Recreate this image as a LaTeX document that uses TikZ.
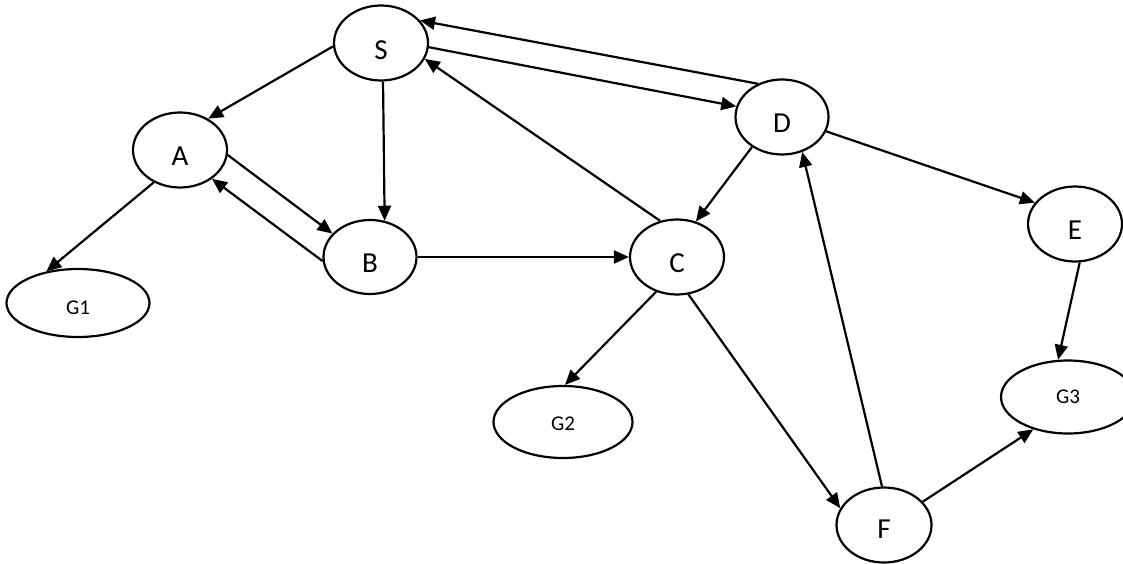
\documentclass[tikz,border=0pt]{standalone}
\usepackage{fontspec}
\setmainfont{Carlito}
\usetikzlibrary{shapes.geometric,arrows.meta}
\begin{document}
\begin{tikzpicture}[x=1pt,y=-1pt,
  st/.style={ellipse,draw,line width=2.2pt,inner sep=0pt,minimum width=94pt,minimum height=75pt},
  gl/.style={ellipse,draw,line width=2.2pt,inner sep=0pt},
  lbl/.style={inner sep=0pt,font=\fontsize{29}{32}\selectfont},
  glbl/.style={inner sep=0pt,font=\fontsize{21}{24}\selectfont},
  arr/.style={line width=2.2pt,-{Triangle[length=15pt,width=13pt]}}]
\useasboundingbox (0,0) rectangle (1123,564);
\clip (0,0) rectangle (1123,564);
% state nodes
\node[st] (S) at (381,43) {};
\node[st] (A) at (180,150) {};
\node[st,minimum width=93pt,minimum height=74pt] (B) at (370,257) {};
\node[st] (C) at (677,257) {};
\node[st,minimum width=93pt] (D) at (782,117) {};
\node[st] (E) at (1075,224) {};
\node[st,minimum width=95pt] (F) at (884,525) {};
\node[gl,minimum width=143pt,minimum height=68pt] (G1) at (78,303) {};
\node[gl,minimum width=139pt,minimum height=72pt] (G2) at (563,422) {};
\node[gl,minimum width=134pt,minimum height=73pt] (G3) at (1068,397) {};
% labels
\node[lbl] (tS) at ([yshift=-7pt]S.center) {S};
\node[lbl] (tA) at ([yshift=-6pt]A.center) {A};
\node[lbl] (tB) at ([yshift=-6pt]B.center) {B};
\node[lbl] (tC) at ([yshift=-6pt]C.center) {C};
\node[lbl] (tD) at ([yshift=-6pt]D.center) {D};
\node[lbl] (tE) at ([yshift=-6pt]E.center) {E};
\node[lbl] (tF) at ([yshift=-4pt]F.center) {F};
\node[glbl] (tG1) at ([yshift=-5pt]G1.center) {G1};
\node[glbl] (tG2) at ([yshift=-2pt]G2.center) {G2};
\node[glbl] (tG3) at ([yshift=0pt]G3.center) {G3};
% connectors
\draw[arr] (S.184) -- (A.48);
\draw[arr] (A.231) -- (G1.135);
\draw[arr] (A.-6) -- (B.148);
\draw[arr] (B.185) -- (A.318);
\draw[arr] (S.273) -- (B.68);
\draw[arr] (B.east) -- (C.west);
\draw[arr] (C.115) -- (S.340);
\draw[arr] (S.-5) -- (D.167);
\draw[arr] (D.126) -- (S.30);
\draw[arr] (D.225) -- (C.62);
\draw[arr] (D.-18) -- (E.152);
\draw[arr] (F.93) -- (D.300);
\draw[arr] (C.287) -- (F.159);
\draw[arr] (C.239) -- (G2.87);
\draw[arr] (E.277) -- (G3.105);
\draw[arr] (F.31) -- (G3.223);
\end{tikzpicture}
\end{document}
